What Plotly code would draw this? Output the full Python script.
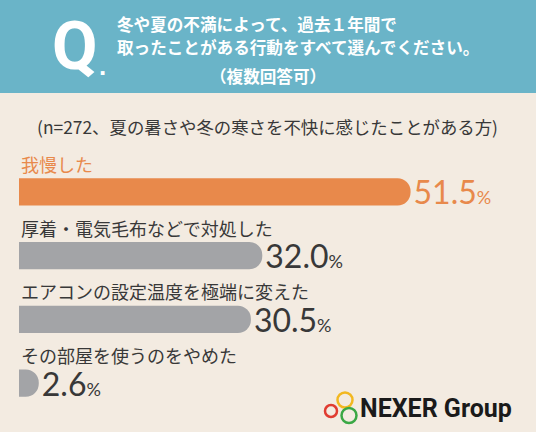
import plotly.graph_objects as go

W, H = 536, 432

# data
categories = ['我慢した', '厚着・電気毛布などで対処した', 'エアコンの設定温度を極端に変えた', 'その部屋を使うのをやめた']
values = [51.5, 32.0, 30.5, 2.6]

title_lines = ['冬や夏の不満によって、過去１年間で', '取ったことがある行動をすべて選んでください。', '（複数回答可）']
subtitle = '(n=272、夏の暑さや冬の寒さを不快に感じたことがある方)'

orange = '#e8894b'
gray = '#a3a4a7'
dark = '#383838'
bg = '#f3ebe1'
teal = '#6ab4c8'
jp = 'Noto Sans CJK JP'

bar_colors = [orange] + [gray] * 3
text_colors = [orange] + [dark] * 3
labels = [f"{v:.1f}<span style='font-size:18px'>%</span>" for v in values]


def px(x):
    return x / W


def py(y):
    return 1 - y / H


fig = go.Figure(go.Bar(
    x=values, y=categories, orientation='h',
    marker=dict(color=bar_colors, line_width=0),
    text=labels, textposition='outside', constraintext='none', cliponaxis=False,
    textfont=dict(family='Lato, Roboto, sans-serif', size=32, color=text_colors),
    hoverinfo='skip',
))

ann = []
# category labels above each bar
for i, c in enumerate(categories):
    ann.append(dict(x=0, y=c, xref='x', yref='y', text=c, showarrow=False,
                    xanchor='left', yanchor='middle', yshift=28,
                    font=dict(family=jp, size=18, color=text_colors[i])))

# header
ann.append(dict(x=px(75), y=py(47), xref='paper', yref='paper', text='Q', showarrow=False,
                xanchor='center', yanchor='middle',
                font=dict(family='Liberation Sans Narrow, Roboto, sans-serif', size=66, color='white', weight='bold')))
ann.append(dict(x=px(102), y=py(66), xref='paper', yref='paper', text='.', showarrow=False,
                xanchor='center', yanchor='middle',
                font=dict(family='Liberation Sans, Roboto, sans-serif', size=26, color='white', weight='bold')))
ann.append(dict(x=px(115), y=py(24), xref='paper', yref='paper', text=title_lines[0], showarrow=False,
                xanchor='left', yanchor='middle', font=dict(family=jp, size=16.6, color='white', weight='bold')))
ann.append(dict(x=px(115), y=py(47), xref='paper', yref='paper', text=title_lines[1], showarrow=False,
                xanchor='left', yanchor='middle', font=dict(family=jp, size=16.6, color='white', weight='bold')))
ann.append(dict(x=px(268), y=py(76), xref='paper', yref='paper', text=title_lines[2], showarrow=False,
                xanchor='center', yanchor='middle', font=dict(family=jp, size=16.6, color='white', weight='bold')))
ann.append(dict(x=px(267), y=py(127), xref='paper', yref='paper', text=subtitle, showarrow=False,
                xanchor='center', yanchor='middle', font=dict(family=jp, size=17.4, color=dark)))

# logo
ann.append(dict(x=px(436), y=py(408), xref='paper', yref='paper', text='NEXER Group', showarrow=False,
                xanchor='center', yanchor='middle',
                font=dict(family='Roboto, sans-serif', size=25, color='#1a1a1a', weight='bold')))

shapes = [dict(type='rect', xref='paper', yref='paper', x0=0, x1=1, y0=py(93), y1=1,
               fillcolor=teal, line_width=0, layer='below')]
for cx, cy, r, col in [(331, 411, 6, '#e03c31'), (345, 400, 7.5, '#f2b820'), (349, 415.5, 7.5, '#3aa845')]:
    shapes.append(dict(type='circle', xref='paper', yref='paper',
                       x0=px(cx - r), x1=px(cx + r), y0=py(cy + r), y1=py(cy - r),
                       line=dict(color=col, width=2.5)))

fig.update_layout(
    width=W, height=H, margin=dict(l=0, r=0, t=0, b=0),
    paper_bgcolor=bg, plot_bgcolor=bg,
    showlegend=False, bargap=0.57, barcornerradius=14,
    xaxis=dict(range=[0, 68], domain=[19 / W, 1], visible=False, fixedrange=True),
    yaxis=dict(type='category', range=[3.5, -0.5], domain=[py(415), py(160)], visible=False, fixedrange=True),
    annotations=ann, shapes=shapes,
)

# page has a default body margin; drop it so the figure fills the window
fig.write_html("out.html", config={'displayModeBar': False},
               post_script="document.body.style.margin='0';document.body.style.overflow='hidden';")
